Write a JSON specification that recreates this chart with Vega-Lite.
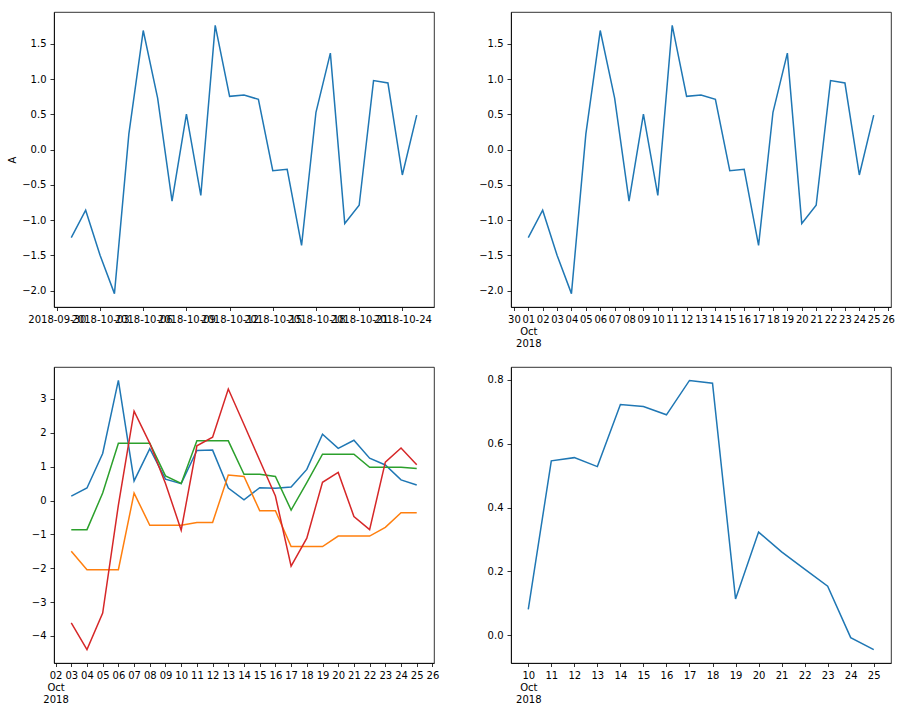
{
  "$schema": "https://vega.github.io/schema/vega-lite/v6.json",
  "background": "white",
  "autosize": {"type": "pad"},
  "padding": {"left": 6, "top": 11, "right": 5, "bottom": 5},
  "config": {
    "font": "DejaVu Sans",
    "view": {"stroke": "#000", "strokeWidth": 0.8},
    "axis": {
      "labelFont": "DejaVu Sans", "labelFontSize": 10, "labelColor": "#000",
      "domainColor": "#000", "domainWidth": 0.8, "tickColor": "#000", "tickWidth": 0.8,
      "tickSize": 3.5, "labelPadding": 3.5, "grid": false,
      "titleFont": "DejaVu Sans", "titleFontSize": 10, "titleFontWeight": "normal", "titleColor": "#000",
      "labelOverlap": false, "labelFlush": false, "labelBound": false, "labelLineHeight": 12
    },
    "axisY": {"minExtent": 32, "maxExtent": 32, "labelPadding": 4, "tickSize": 4}
  },
  "datasets": {
    "A": [
      {"date": "2018-10-01T00:00:00Z", "value": -1.25},
      {"date": "2018-10-02T00:00:00Z", "value": -0.86},
      {"date": "2018-10-03T00:00:00Z", "value": -1.5},
      {"date": "2018-10-04T00:00:00Z", "value": -2.044},
      {"date": "2018-10-05T00:00:00Z", "value": 0.22},
      {"date": "2018-10-06T00:00:00Z", "value": 1.69},
      {"date": "2018-10-07T00:00:00Z", "value": 0.73},
      {"date": "2018-10-08T00:00:00Z", "value": -0.73},
      {"date": "2018-10-09T00:00:00Z", "value": 0.505},
      {"date": "2018-10-10T00:00:00Z", "value": -0.65},
      {"date": "2018-10-11T00:00:00Z", "value": 1.763},
      {"date": "2018-10-12T00:00:00Z", "value": 0.756},
      {"date": "2018-10-13T00:00:00Z", "value": 0.775},
      {"date": "2018-10-14T00:00:00Z", "value": 0.713},
      {"date": "2018-10-15T00:00:00Z", "value": -0.3},
      {"date": "2018-10-16T00:00:00Z", "value": -0.28},
      {"date": "2018-10-17T00:00:00Z", "value": -1.36},
      {"date": "2018-10-18T00:00:00Z", "value": 0.53},
      {"date": "2018-10-19T00:00:00Z", "value": 1.37},
      {"date": "2018-10-20T00:00:00Z", "value": -1.05},
      {"date": "2018-10-21T00:00:00Z", "value": -0.79},
      {"date": "2018-10-22T00:00:00Z", "value": 0.98},
      {"date": "2018-10-23T00:00:00Z", "value": 0.945},
      {"date": "2018-10-24T00:00:00Z", "value": -0.36},
      {"date": "2018-10-25T00:00:00Z", "value": 0.49}
    ],
    "rolling": [
      {"date": "2018-10-03T00:00:00Z", "stat": "var", "value": 0.13},
      {"date": "2018-10-04T00:00:00Z", "stat": "var", "value": 0.37},
      {"date": "2018-10-05T00:00:00Z", "stat": "var", "value": 1.39},
      {"date": "2018-10-06T00:00:00Z", "stat": "var", "value": 3.547},
      {"date": "2018-10-07T00:00:00Z", "stat": "var", "value": 0.58},
      {"date": "2018-10-08T00:00:00Z", "stat": "var", "value": 1.53},
      {"date": "2018-10-09T00:00:00Z", "stat": "var", "value": 0.63},
      {"date": "2018-10-10T00:00:00Z", "stat": "var", "value": 0.5},
      {"date": "2018-10-11T00:00:00Z", "stat": "var", "value": 1.48},
      {"date": "2018-10-12T00:00:00Z", "stat": "var", "value": 1.49},
      {"date": "2018-10-13T00:00:00Z", "stat": "var", "value": 0.37},
      {"date": "2018-10-14T00:00:00Z", "stat": "var", "value": 0.02},
      {"date": "2018-10-15T00:00:00Z", "stat": "var", "value": 0.38},
      {"date": "2018-10-16T00:00:00Z", "stat": "var", "value": 0.36},
      {"date": "2018-10-17T00:00:00Z", "stat": "var", "value": 0.4},
      {"date": "2018-10-18T00:00:00Z", "stat": "var", "value": 0.92},
      {"date": "2018-10-19T00:00:00Z", "stat": "var", "value": 1.96},
      {"date": "2018-10-20T00:00:00Z", "stat": "var", "value": 1.54},
      {"date": "2018-10-21T00:00:00Z", "stat": "var", "value": 1.78},
      {"date": "2018-10-22T00:00:00Z", "stat": "var", "value": 1.25},
      {"date": "2018-10-23T00:00:00Z", "stat": "var", "value": 1.05},
      {"date": "2018-10-24T00:00:00Z", "stat": "var", "value": 0.61},
      {"date": "2018-10-25T00:00:00Z", "stat": "var", "value": 0.46},
      {"date": "2018-10-03T00:00:00Z", "stat": "min", "value": -1.5},
      {"date": "2018-10-04T00:00:00Z", "stat": "min", "value": -2.044},
      {"date": "2018-10-05T00:00:00Z", "stat": "min", "value": -2.044},
      {"date": "2018-10-06T00:00:00Z", "stat": "min", "value": -2.044},
      {"date": "2018-10-07T00:00:00Z", "stat": "min", "value": 0.22},
      {"date": "2018-10-08T00:00:00Z", "stat": "min", "value": -0.73},
      {"date": "2018-10-09T00:00:00Z", "stat": "min", "value": -0.73},
      {"date": "2018-10-10T00:00:00Z", "stat": "min", "value": -0.73},
      {"date": "2018-10-11T00:00:00Z", "stat": "min", "value": -0.65},
      {"date": "2018-10-12T00:00:00Z", "stat": "min", "value": -0.65},
      {"date": "2018-10-13T00:00:00Z", "stat": "min", "value": 0.756},
      {"date": "2018-10-14T00:00:00Z", "stat": "min", "value": 0.713},
      {"date": "2018-10-15T00:00:00Z", "stat": "min", "value": -0.3},
      {"date": "2018-10-16T00:00:00Z", "stat": "min", "value": -0.3},
      {"date": "2018-10-17T00:00:00Z", "stat": "min", "value": -1.36},
      {"date": "2018-10-18T00:00:00Z", "stat": "min", "value": -1.36},
      {"date": "2018-10-19T00:00:00Z", "stat": "min", "value": -1.36},
      {"date": "2018-10-20T00:00:00Z", "stat": "min", "value": -1.05},
      {"date": "2018-10-21T00:00:00Z", "stat": "min", "value": -1.05},
      {"date": "2018-10-22T00:00:00Z", "stat": "min", "value": -1.05},
      {"date": "2018-10-23T00:00:00Z", "stat": "min", "value": -0.79},
      {"date": "2018-10-24T00:00:00Z", "stat": "min", "value": -0.36},
      {"date": "2018-10-25T00:00:00Z", "stat": "min", "value": -0.36},
      {"date": "2018-10-03T00:00:00Z", "stat": "max", "value": -0.86},
      {"date": "2018-10-04T00:00:00Z", "stat": "max", "value": -0.86},
      {"date": "2018-10-05T00:00:00Z", "stat": "max", "value": 0.22},
      {"date": "2018-10-06T00:00:00Z", "stat": "max", "value": 1.69},
      {"date": "2018-10-07T00:00:00Z", "stat": "max", "value": 1.69},
      {"date": "2018-10-08T00:00:00Z", "stat": "max", "value": 1.69},
      {"date": "2018-10-09T00:00:00Z", "stat": "max", "value": 0.73},
      {"date": "2018-10-10T00:00:00Z", "stat": "max", "value": 0.505},
      {"date": "2018-10-11T00:00:00Z", "stat": "max", "value": 1.763},
      {"date": "2018-10-12T00:00:00Z", "stat": "max", "value": 1.763},
      {"date": "2018-10-13T00:00:00Z", "stat": "max", "value": 1.763},
      {"date": "2018-10-14T00:00:00Z", "stat": "max", "value": 0.775},
      {"date": "2018-10-15T00:00:00Z", "stat": "max", "value": 0.775},
      {"date": "2018-10-16T00:00:00Z", "stat": "max", "value": 0.713},
      {"date": "2018-10-17T00:00:00Z", "stat": "max", "value": -0.28},
      {"date": "2018-10-18T00:00:00Z", "stat": "max", "value": 0.53},
      {"date": "2018-10-19T00:00:00Z", "stat": "max", "value": 1.37},
      {"date": "2018-10-20T00:00:00Z", "stat": "max", "value": 1.37},
      {"date": "2018-10-21T00:00:00Z", "stat": "max", "value": 1.37},
      {"date": "2018-10-22T00:00:00Z", "stat": "max", "value": 0.98},
      {"date": "2018-10-23T00:00:00Z", "stat": "max", "value": 0.98},
      {"date": "2018-10-24T00:00:00Z", "stat": "max", "value": 0.98},
      {"date": "2018-10-25T00:00:00Z", "stat": "max", "value": 0.945},
      {"date": "2018-10-03T00:00:00Z", "stat": "sum", "value": -3.61},
      {"date": "2018-10-04T00:00:00Z", "stat": "sum", "value": -4.404},
      {"date": "2018-10-05T00:00:00Z", "stat": "sum", "value": -3.324},
      {"date": "2018-10-06T00:00:00Z", "stat": "sum", "value": -0.134},
      {"date": "2018-10-07T00:00:00Z", "stat": "sum", "value": 2.64},
      {"date": "2018-10-08T00:00:00Z", "stat": "sum", "value": 1.69},
      {"date": "2018-10-09T00:00:00Z", "stat": "sum", "value": 0.505},
      {"date": "2018-10-10T00:00:00Z", "stat": "sum", "value": -0.875},
      {"date": "2018-10-11T00:00:00Z", "stat": "sum", "value": 1.618},
      {"date": "2018-10-12T00:00:00Z", "stat": "sum", "value": 1.869},
      {"date": "2018-10-13T00:00:00Z", "stat": "sum", "value": 3.294},
      {"date": "2018-10-14T00:00:00Z", "stat": "sum", "value": 2.244},
      {"date": "2018-10-15T00:00:00Z", "stat": "sum", "value": 1.188},
      {"date": "2018-10-16T00:00:00Z", "stat": "sum", "value": 0.133},
      {"date": "2018-10-17T00:00:00Z", "stat": "sum", "value": -1.94},
      {"date": "2018-10-18T00:00:00Z", "stat": "sum", "value": -1.11},
      {"date": "2018-10-19T00:00:00Z", "stat": "sum", "value": 0.54},
      {"date": "2018-10-20T00:00:00Z", "stat": "sum", "value": 0.83},
      {"date": "2018-10-21T00:00:00Z", "stat": "sum", "value": -0.47},
      {"date": "2018-10-22T00:00:00Z", "stat": "sum", "value": -0.86},
      {"date": "2018-10-23T00:00:00Z", "stat": "sum", "value": 1.135},
      {"date": "2018-10-24T00:00:00Z", "stat": "sum", "value": 1.55},
      {"date": "2018-10-25T00:00:00Z", "stat": "sum", "value": 1.06}
    ],
    "corr": [
      {"date": "2018-10-10T00:00:00Z", "value": 0.081},
      {"date": "2018-10-11T00:00:00Z", "value": 0.546},
      {"date": "2018-10-12T00:00:00Z", "value": 0.556},
      {"date": "2018-10-13T00:00:00Z", "value": 0.528},
      {"date": "2018-10-14T00:00:00Z", "value": 0.722},
      {"date": "2018-10-15T00:00:00Z", "value": 0.716},
      {"date": "2018-10-16T00:00:00Z", "value": 0.69},
      {"date": "2018-10-17T00:00:00Z", "value": 0.7975},
      {"date": "2018-10-18T00:00:00Z", "value": 0.789},
      {"date": "2018-10-19T00:00:00Z", "value": 0.114},
      {"date": "2018-10-20T00:00:00Z", "value": 0.323},
      {"date": "2018-10-21T00:00:00Z", "value": 0.261},
      {"date": "2018-10-22T00:00:00Z", "value": 0.207},
      {"date": "2018-10-23T00:00:00Z", "value": 0.154},
      {"date": "2018-10-24T00:00:00Z", "value": -0.007},
      {"date": "2018-10-25T00:00:00Z", "value": -0.0444}
    ]
  },
  "columns": 2,
  "bounds": "flush",
  "spacing": {"row": 60, "column": 77},
  "concat": [
    {
      "width": 380, "height": 295,
      "data": {"name": "A"},
      "mark": {"type": "line", "color": "#1f77b4", "strokeWidth": 1.5},
      "encoding": {
        "x": {"field": "date", "type": "temporal",
          "scale": {"type": "utc", "nice": false, "domain": [
            {"year": 2018, "month": 9, "date": 29, "hours": 19, "minutes": 12, "utc": true},
            {"year": 2018, "month": 10, "date": 26, "hours": 4, "minutes": 48, "utc": true}]},
          "axis": {"title": null, "labelExpr": "utcFormat(datum.value, '%Y-%m-%d')",
            "values": [
              {"year": 2018, "month": 9, "date": 30, "utc": true},
              {"year": 2018, "month": 10, "date": 3, "utc": true},
              {"year": 2018, "month": 10, "date": 6, "utc": true},
              {"year": 2018, "month": 10, "date": 9, "utc": true},
              {"year": 2018, "month": 10, "date": 12, "utc": true},
              {"year": 2018, "month": 10, "date": 15, "utc": true},
              {"year": 2018, "month": 10, "date": 18, "utc": true},
              {"year": 2018, "month": 10, "date": 21, "utc": true},
              {"year": 2018, "month": 10, "date": 24, "utc": true}]}},
        "y": {"field": "value", "type": "quantitative",
          "scale": {"domain": [-2.234, 1.953], "nice": false, "zero": false},
          "axis": {"title": "A", "titlePadding": 5, "format": ".1f", "values": [-2, -1.5, -1, -0.5, 0, 0.5, 1, 1.5]}}
      }
    },
    {
      "width": 380, "height": 295,
      "data": {"name": "A"},
      "mark": {"type": "line", "color": "#1f77b4", "strokeWidth": 1.5},
      "encoding": {
        "x": {"field": "date", "type": "temporal",
          "scale": {"type": "utc", "nice": false, "domain": [
            {"year": 2018, "month": 9, "date": 29, "hours": 19, "minutes": 12, "utc": true},
            {"year": 2018, "month": 10, "date": 26, "hours": 4, "minutes": 48, "utc": true}]},
          "axis": {"title": null,
            "labelExpr": "utcdate(datum.value) == 1 ? [utcFormat(datum.value, '%d'), 'Oct', '2018'] : utcFormat(datum.value, '%d')",
            "values": [
              {"year": 2018, "month": 9, "date": 30, "utc": true},
              {"year": 2018, "month": 10, "date": 1, "utc": true},
              {"year": 2018, "month": 10, "date": 2, "utc": true},
              {"year": 2018, "month": 10, "date": 3, "utc": true},
              {"year": 2018, "month": 10, "date": 4, "utc": true},
              {"year": 2018, "month": 10, "date": 5, "utc": true},
              {"year": 2018, "month": 10, "date": 6, "utc": true},
              {"year": 2018, "month": 10, "date": 7, "utc": true},
              {"year": 2018, "month": 10, "date": 8, "utc": true},
              {"year": 2018, "month": 10, "date": 9, "utc": true},
              {"year": 2018, "month": 10, "date": 10, "utc": true},
              {"year": 2018, "month": 10, "date": 11, "utc": true},
              {"year": 2018, "month": 10, "date": 12, "utc": true},
              {"year": 2018, "month": 10, "date": 13, "utc": true},
              {"year": 2018, "month": 10, "date": 14, "utc": true},
              {"year": 2018, "month": 10, "date": 15, "utc": true},
              {"year": 2018, "month": 10, "date": 16, "utc": true},
              {"year": 2018, "month": 10, "date": 17, "utc": true},
              {"year": 2018, "month": 10, "date": 18, "utc": true},
              {"year": 2018, "month": 10, "date": 19, "utc": true},
              {"year": 2018, "month": 10, "date": 20, "utc": true},
              {"year": 2018, "month": 10, "date": 21, "utc": true},
              {"year": 2018, "month": 10, "date": 22, "utc": true},
              {"year": 2018, "month": 10, "date": 23, "utc": true},
              {"year": 2018, "month": 10, "date": 24, "utc": true},
              {"year": 2018, "month": 10, "date": 25, "utc": true},
              {"year": 2018, "month": 10, "date": 26, "utc": true}]}},
        "y": {"field": "value", "type": "quantitative",
          "scale": {"domain": [-2.234, 1.953], "nice": false, "zero": false},
          "axis": {"title": null, "format": ".1f", "values": [-2, -1.5, -1, -0.5, 0, 0.5, 1, 1.5]}}
      }
    },
    {
      "width": 380, "height": 296,
      "data": {"name": "rolling"},
      "mark": {"type": "line", "strokeWidth": 1.5},
      "encoding": {
        "x": {"field": "date", "type": "temporal",
          "scale": {"type": "utc", "nice": false, "domain": [
            {"year": 2018, "month": 10, "date": 1, "hours": 21, "minutes": 36, "utc": true},
            {"year": 2018, "month": 10, "date": 26, "hours": 2, "minutes": 24, "utc": true}]},
          "axis": {"title": null,
            "labelExpr": "utcdate(datum.value) == 2 ? [utcFormat(datum.value, '%d'), 'Oct', '2018'] : utcFormat(datum.value, '%d')",
            "values": [
              {"year": 2018, "month": 10, "date": 2, "utc": true},
              {"year": 2018, "month": 10, "date": 3, "utc": true},
              {"year": 2018, "month": 10, "date": 4, "utc": true},
              {"year": 2018, "month": 10, "date": 5, "utc": true},
              {"year": 2018, "month": 10, "date": 6, "utc": true},
              {"year": 2018, "month": 10, "date": 7, "utc": true},
              {"year": 2018, "month": 10, "date": 8, "utc": true},
              {"year": 2018, "month": 10, "date": 9, "utc": true},
              {"year": 2018, "month": 10, "date": 10, "utc": true},
              {"year": 2018, "month": 10, "date": 11, "utc": true},
              {"year": 2018, "month": 10, "date": 12, "utc": true},
              {"year": 2018, "month": 10, "date": 13, "utc": true},
              {"year": 2018, "month": 10, "date": 14, "utc": true},
              {"year": 2018, "month": 10, "date": 15, "utc": true},
              {"year": 2018, "month": 10, "date": 16, "utc": true},
              {"year": 2018, "month": 10, "date": 17, "utc": true},
              {"year": 2018, "month": 10, "date": 18, "utc": true},
              {"year": 2018, "month": 10, "date": 19, "utc": true},
              {"year": 2018, "month": 10, "date": 20, "utc": true},
              {"year": 2018, "month": 10, "date": 21, "utc": true},
              {"year": 2018, "month": 10, "date": 22, "utc": true},
              {"year": 2018, "month": 10, "date": 23, "utc": true},
              {"year": 2018, "month": 10, "date": 24, "utc": true},
              {"year": 2018, "month": 10, "date": 25, "utc": true},
              {"year": 2018, "month": 10, "date": 26, "utc": true}]}},
        "y": {"field": "value", "type": "quantitative",
          "scale": {"domain": [-4.798, 3.944], "nice": false, "zero": false},
          "axis": {"title": null, "format": "d", "values": [-4, -3, -2, -1, 0, 1, 2, 3]}},
        "color": {"field": "stat", "type": "nominal",
          "scale": {"domain": ["var", "min", "max", "sum"], "range": ["#1f77b4", "#ff7f0e", "#2ca02c", "#d62728"]},
          "legend": null}
      }
    },
    {
      "width": 380, "height": 296,
      "data": {"name": "corr"},
      "mark": {"type": "line", "color": "#1f77b4", "strokeWidth": 1.5},
      "encoding": {
        "x": {"field": "date", "type": "temporal",
          "scale": {"type": "utc", "nice": false, "domain": [
            {"year": 2018, "month": 10, "date": 9, "hours": 6, "utc": true},
            {"year": 2018, "month": 10, "date": 25, "hours": 18, "utc": true}]},
          "axis": {"title": null,
            "labelExpr": "utcdate(datum.value) == 10 ? [utcFormat(datum.value, '%d'), 'Oct', '2018'] : utcFormat(datum.value, '%d')",
            "values": [
              {"year": 2018, "month": 10, "date": 10, "utc": true},
              {"year": 2018, "month": 10, "date": 11, "utc": true},
              {"year": 2018, "month": 10, "date": 12, "utc": true},
              {"year": 2018, "month": 10, "date": 13, "utc": true},
              {"year": 2018, "month": 10, "date": 14, "utc": true},
              {"year": 2018, "month": 10, "date": 15, "utc": true},
              {"year": 2018, "month": 10, "date": 16, "utc": true},
              {"year": 2018, "month": 10, "date": 17, "utc": true},
              {"year": 2018, "month": 10, "date": 18, "utc": true},
              {"year": 2018, "month": 10, "date": 19, "utc": true},
              {"year": 2018, "month": 10, "date": 20, "utc": true},
              {"year": 2018, "month": 10, "date": 21, "utc": true},
              {"year": 2018, "month": 10, "date": 22, "utc": true},
              {"year": 2018, "month": 10, "date": 23, "utc": true},
              {"year": 2018, "month": 10, "date": 24, "utc": true},
              {"year": 2018, "month": 10, "date": 25, "utc": true}]}},
        "y": {"field": "value", "type": "quantitative",
          "scale": {"domain": [-0.0865, 0.8396], "nice": false, "zero": false},
          "axis": {"title": null, "format": ".1f", "values": [0, 0.2, 0.4, 0.6, 0.8]}}
      }
    }
  ]
}
